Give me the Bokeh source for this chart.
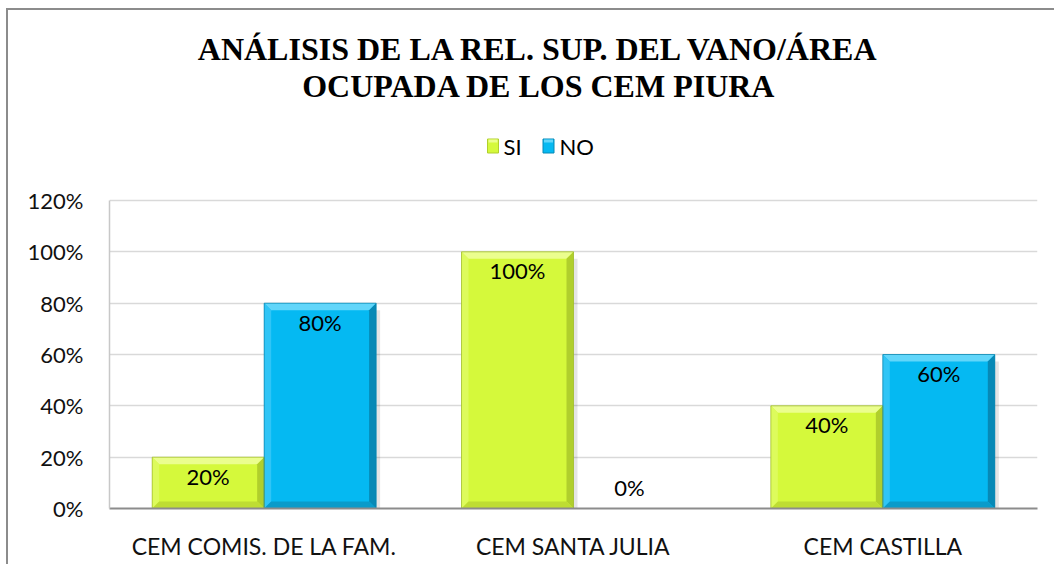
from bokeh.plotting import figure
from bokeh.models import FixedTicker, NumeralTickFormatter, Range1d, ColumnDataSource
from bokeh.core.properties import value
from bokeh.embed import file_html
from bokeh.resources import INLINE

# ---------------- data ----------------
categories = ["CEM COMIS. DE LA FAM.", "CEM SANTA JULIA", "CEM CASTILLA"]
series = ["SI", "NO"]
si_values = [0.20, 1.00, 0.40]
no_values = [0.80, 0.00, 0.60]
y_ticks = [0.0, 0.2, 0.4, 0.6, 0.8, 1.0, 1.2]
title_lines = ["ANÁLISIS DE LA REL. SUP. DEL VANO/ÁREA", "OCUPADA DE LOS CEM PIURA"]

# ---------------- layout ----------------
W, H = 1048, 556
LEFT, RIGHT_B, TOP, BOTTOM = 101, 19, 0, 58
frame_w = W - LEFT - RIGHT_B
frame_h = H - TOP - BOTTOM
n = len(categories)
ppx = frame_w / n            # px per x unit
ppy = 308 / 1.2              # px per y unit
y_end = frame_h / ppy

def dxp(px):
    return px / ppx

def dyp(px):
    return px / ppy

def cy(canvas_y):
    return (frame_h + TOP - canvas_y) / ppy

def cx(canvas_x):
    return (canvas_x - LEFT) / ppx

FONT = "Lato"
SERIF = "Liberation Serif"

styles = {
    "SI": dict(main="#D5F93B", top="#EBFE8E", left="#DDFB5C", right="#B0CF2C", bottom="#BEDD33", line="#9AB528"),
    "NO": dict(main="#05B9F2", top="#62D6FA", left="#30C5F6", right="#0789B6", bottom="#0A9BCA", line="#0880AA"),
}

p = figure(width=W, height=H, output_backend="svg", toolbar_location=None,
           x_range=Range1d(0, n), y_range=Range1d(0, y_end),
           min_border_left=LEFT, min_border_right=RIGHT_B,
           min_border_top=TOP, min_border_bottom=BOTTOM)
p.margin = (8, 0, 0, 6)
p.styles = {"border-top": "2px solid #8C8C8C", "border-left": "2px solid #8C8C8C"}
p.outline_line_color = None
p.background_fill_color = "white"
p.border_fill_color = "white"

# grid / axes
p.xgrid.visible = False
p.ygrid.grid_line_color = "#D9D9D9"
p.ygrid.grid_line_width = 1.5
p.yaxis.ticker = FixedTicker(ticks=y_ticks)
p.yaxis.formatter = NumeralTickFormatter(format="0%")
p.yaxis.bounds = (0, 1.2)
p.yaxis.axis_line_color = "#C8C8C8"
p.yaxis.axis_line_width = 1.5
p.yaxis.major_tick_line_color = None
p.yaxis.minor_tick_line_color = None
p.yaxis.major_tick_in = 0
p.yaxis.major_tick_out = 0
p.yaxis.major_label_standoff = 26
p.yaxis.major_label_text_font = FONT
p.yaxis.major_label_text_font_size = "22px"
p.yaxis.major_label_text_color = "#111111"

p.xaxis.ticker = FixedTicker(ticks=[i + 0.5 for i in range(n)])
p.xaxis.major_label_overrides = {i + 0.5: c for i, c in enumerate(categories)}
p.xaxis.axis_line_color = "#8C8C8C"
p.xaxis.axis_line_width = 2
p.xaxis.major_tick_line_color = None
p.xaxis.minor_tick_line_color = None
p.xaxis.major_tick_in = 0
p.xaxis.major_tick_out = 0
p.xaxis.major_label_standoff = 23
p.xaxis.major_label_text_font = FONT
p.xaxis.major_label_text_font_size = "23px"
p.xaxis.major_label_text_color = "#111111"

# bars with bevel
bar_w = 0.362
bx = dxp(7)
by = dyp(7)
sh = dxp(4)

shadow_l, shadow_r, shadow_t = [], [], []
parts = {k: ([], [], []) for k in ["main", "top", "left", "right", "bottom"]}
line_xs, line_ys, line_cols = [], [], []
lab_x, lab_y, lab_t, lab_off = [], [], [], []

for s_idx, (sname, vals) in enumerate(zip(series, [si_values, no_values])):
    st = styles[sname]
    for i, v in enumerate(vals):
        x0 = i + 0.5 - bar_w + s_idx * bar_w
        x1 = x0 + bar_w
        lab_x.append((x0 + x1) / 2)
        lab_y.append(v)
        lab_t.append(f"{round(v * 100)}%")
        lab_off.append(19 if v > 0 else -21)
        if v <= 0:
            continue
        shadow_l.append(x1); shadow_r.append(x1 + sh); shadow_t.append(v - by)
        polys = {
            "main": ([x0, x1, x1, x0], [0, 0, v, v]),
            "top": ([x0, x1, x1 - bx, x0 + bx], [v, v, v - by, v - by]),
            "left": ([x0, x0, x0 + bx, x0 + bx], [0, v, v - by, by]),
            "right": ([x1, x1, x1 - bx, x1 - bx], [0, v, v - by, by]),
            "bottom": ([x0, x1, x1 - bx, x0 + bx], [0, 0, by, by]),
        }
        for k, (xs, ys) in polys.items():
            parts[k][0].append(xs)
            parts[k][1].append(ys)
            parts[k][2].append(st[k])
        line_xs.append([x0, x1, x1, x0, x0])
        line_ys.append([0, 0, v, v, 0])
        line_cols.append(st["line"])

p.quad(left=shadow_l, right=shadow_r, bottom=0, top=shadow_t,
       fill_color="#000000", fill_alpha=0.10, line_color=None)
for k in ["main", "top", "left", "right", "bottom"]:
    xs, ys, cols = parts[k]
    p.patches(xs=xs, ys=ys, fill_color=cols, line_color=None)
p.multi_line(xs=line_xs, ys=line_ys, line_color=line_cols, line_width=1, line_alpha=0.7)

# data labels
lsrc = ColumnDataSource(dict(x=lab_x, y=lab_y, t=lab_t, off=lab_off))
p.text(x="x", y="y", text="t", y_offset="off", source=lsrc,
       text_font=value(FONT), text_font_size="22px", text_color="#000000",
       text_align="center", text_baseline="middle")

# title
tx = cx(530.7)
p.text(x=[tx, tx], y=[cy(38.3), cy(75.7)], text=title_lines,
       text_font=value(SERIF), text_font_size="32px", text_font_style="bold",
       text_color="#000000", text_align="center", text_baseline="middle")

# legend
leg_y = cy(135.5)
mk_x = [cx(484.5), cx(540)]
p.rect(x=mk_x, y=[leg_y, leg_y], width=11, height=14,
       width_units="screen", height_units="screen",
       fill_color=[styles[s]["main"] for s in series],
       line_color=[styles[s]["right"] for s in series], line_width=1)
p.rect(x=mk_x, y=[leg_y + dyp(5), leg_y + dyp(5)], width=9, height=3,
       width_units="screen", height_units="screen",
       fill_color=[styles[s]["top"] for s in series], line_color=None)
p.text(x=[cx(495), cx(551)], y=[leg_y, leg_y], text=series,
       text_font=value(FONT), text_font_size="22px", text_color="#000000",
       text_align="left", text_baseline="middle")

open("out.html", "w").write(file_html(p, INLINE))
